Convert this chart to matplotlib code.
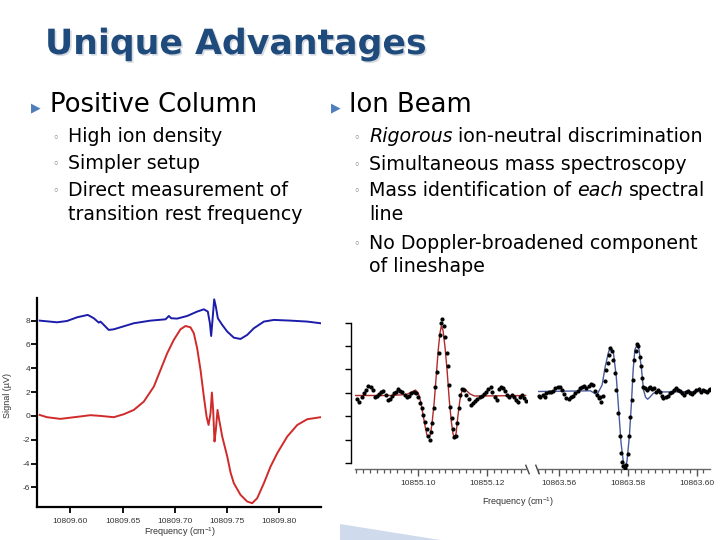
import matplotlib
matplotlib.use("Agg")
import matplotlib.pyplot as plt
import matplotlib.patheffects as pe
from matplotlib.patches import Polygon
from matplotlib.ticker import MultipleLocator, FormatStrFormatter, NullFormatter

# ---------------- text content ----------------
title_text = "Unique Advantages"
left_heading = "Positive Column"
right_heading = "Ion Beam"
left_bullets = [
    [[("High ion density", "normal")]],
    [[("Simpler setup", "normal")]],
    [[("Direct measurement of", "normal")], [("transition rest frequency", "normal")]],
]
right_bullets = [
    [[("Rigorous", "italic"), ("ion-neutral discrimination", "normal")]],
    [[("Simultaneous mass spectroscopy", "normal")]],
    [[("Mass identification of", "normal"), ("each", "italic"), ("spectral", "normal")],
     [("line", "normal")]],
    [[("No Doppler-broadened component", "normal")], [("of lineshape", "normal")]],
]

# ---------------- positive column spectrum ----------------
pc_ticks_x = [10809.60, 10809.65, 10809.70, 10809.75, 10809.80]
pc_ticks_y = [-6, -4, -2, 0, 2, 4, 6, 8]
pc_red_freq = [10809.5706, 10809.5776, 10809.5904, 10809.6064, 10809.6192, 10809.6288,
               10809.6415, 10809.6511, 10809.6607, 10809.6703, 10809.6799, 10809.6863,
               10809.6927, 10809.6990, 10809.7054, 10809.7102, 10809.7150, 10809.7182,
               10809.7214, 10809.7246, 10809.7278, 10809.7304, 10809.7323, 10809.7342,
               10809.7355, 10809.7367, 10809.7380, 10809.7393, 10809.7409, 10809.7425,
               10809.7454, 10809.7502, 10809.7534, 10809.7565, 10809.7629, 10809.7693,
               10809.7741, 10809.7789, 10809.7853, 10809.7917, 10809.7981, 10809.8077,
               10809.8173, 10809.8268, 10809.8396]
pc_red_sig = [0.08, -0.11, -0.25, -0.08, 0.06, 0.0, -0.11, 0.14, 0.5, 1.2,
              2.46, 3.86, 5.26, 6.38, 7.27, 7.55, 7.44, 6.94, 5.68, 3.86,
              1.62, -0.06, -0.76, 0.22, 1.96, 0.5, -2.15, -1.17, 0.5, -0.34,
              -1.73, -3.41, -4.76, -5.65, -6.63, -7.19, -7.33, -6.91, -5.65, -4.25,
              -3.13, -1.73, -0.76, -0.28, -0.11]
pc_blue_freq = [10809.5706, 10809.5872, 10809.5968, 10809.6064, 10809.6166, 10809.6224,
                10809.6272, 10809.6288, 10809.6320, 10809.6367, 10809.6415, 10809.6479,
                10809.6607, 10809.6767, 10809.6911, 10809.6943, 10809.6965, 10809.7022,
                10809.7118, 10809.7214, 10809.7278, 10809.7316, 10809.7336, 10809.7348,
                10809.7361, 10809.7377, 10809.7393, 10809.7412, 10809.7454, 10809.7502,
                10809.7565, 10809.7629, 10809.7693, 10809.7757, 10809.7853, 10809.7949,
                10809.8109, 10809.8268, 10809.8396]
pc_blue_sig = [8.0, 7.86, 7.97, 8.28, 8.48, 8.2, 7.83, 7.92, 7.64, 7.22,
               7.27, 7.44, 7.78, 8.0, 8.11, 8.39, 8.2, 8.17, 8.39, 8.76,
               8.95, 8.76, 7.78, 6.71, 8.06, 9.79, 9.17, 8.2, 7.64, 7.08,
               6.57, 6.46, 6.8, 7.36, 7.92, 8.06, 8.0, 7.92, 7.78]

# ---------------- ion beam spectrum ----------------
ib_ticks_a = [10855.10, 10855.12]
ib_ticks_b = [10863.56, 10863.58, 10863.60]
ib_ticks_y = [0, 1, 2, 3, 4, 5, 6]
ib_dot_freq_a = [10855.0822, 10855.0830, 10855.0837, 10855.0843, 10855.0849, 10855.0856,
                 10855.0863, 10855.0868, 10855.0875, 10855.0882, 10855.0888, 10855.0893,
                 10855.0899, 10855.0906, 10855.0912, 10855.0918, 10855.0924, 10855.0930,
                 10855.0936, 10855.0942, 10855.0949, 10855.0955, 10855.0962, 10855.0968,
                 10855.0974, 10855.0981, 10855.0988, 10855.0993, 10855.1000, 10855.1006,
                 10855.1011, 10855.1015, 10855.1020, 10855.1025, 10855.1030, 10855.1034,
                 10855.1038, 10855.1041, 10855.1046, 10855.1051, 10855.1056, 10855.1060,
                 10855.1064, 10855.1067, 10855.1071, 10855.1075, 10855.1079, 10855.1083,
                 10855.1087, 10855.1090, 10855.1094, 10855.1098, 10855.1102, 10855.1106,
                 10855.1110, 10855.1114, 10855.1118, 10855.1123, 10855.1128, 10855.1133,
                 10855.1139, 10855.1147, 10855.1154, 10855.1161, 10855.1166, 10855.1173,
                 10855.1180, 10855.1186, 10855.1192, 10855.1198, 10855.1205, 10855.1212,
                 10855.1216, 10855.1223, 10855.1229, 10855.1236, 10855.1241, 10855.1247,
                 10855.1253, 10855.1260, 10855.1266, 10855.1272, 10855.1279, 10855.1286,
                 10855.1291, 10855.1297, 10855.1303, 10855.1309, 10855.1314]
ib_dot_val_a = [2.73, 2.63, 2.82, 2.99, 3.13, 3.30, 3.27, 3.13, 2.82, 2.87,
                2.96, 3.06, 3.09, 2.92, 2.70, 2.73, 2.87, 2.99, 3.06, 3.16,
                3.09, 3.03, 2.92, 2.82, 2.87, 2.99, 3.06, 2.99, 2.82, 2.56,
                2.35, 2.06, 1.78, 1.45, 1.17, 0.97, 1.35, 1.71, 2.35, 3.27,
                3.91, 4.72, 5.48, 5.97, 6.15, 5.86, 5.38, 4.69, 4.13, 3.34,
                2.42, 1.92, 1.45, 1.10, 1.14, 1.71, 2.35, 2.92, 3.16, 3.13,
                2.92, 2.73, 2.49, 2.56, 2.67, 2.73, 2.82, 2.87, 2.96, 3.02,
                3.16, 3.24, 3.06, 2.82, 2.70, 3.16, 3.24, 3.19, 3.09, 2.92,
                2.84, 2.92, 2.84, 2.70, 2.63, 2.82, 2.92, 2.77, 2.67]
ib_fit_freq_a = [10855.0817, 10855.0918, 10855.0966, 10855.0981, 10855.0993, 10855.1001,
                 10855.1008, 10855.1014, 10855.1021, 10855.1026, 10855.1031, 10855.1036,
                 10855.1041, 10855.1047, 10855.1053, 10855.1059, 10855.1064, 10855.1068,
                 10855.1073, 10855.1079, 10855.1085, 10855.1091, 10855.1097, 10855.1102,
                 10855.1106, 10855.1111, 10855.1116, 10855.1122, 10855.1128, 10855.1134,
                 10855.1141, 10855.1151, 10855.1164, 10855.1188, 10855.1313]
ib_fit_val_a = [2.89, 2.89, 2.93, 3.03, 3.12, 2.99, 2.63, 2.13, 1.56, 1.21,
                1.10, 1.21, 1.71, 2.56, 3.70, 4.84, 5.55, 5.86, 5.66, 4.91,
                3.91, 2.70, 1.78, 1.25, 1.10, 1.28, 1.99, 2.70, 3.09, 3.20,
                3.10, 2.96, 2.87, 2.87, 2.89]
ib_dot_freq_b = [10863.5542, 10863.5547, 10863.5553, 10863.5559, 10863.5564, 10863.5571,
                 10863.5578, 10863.5584, 10863.5590, 10863.5597, 10863.5603, 10863.5610,
                 10863.5616, 10863.5622, 10863.5629, 10863.5636, 10863.5642, 10863.5648,
                 10863.5655, 10863.5661, 10863.5668, 10863.5674, 10863.5680, 10863.5687,
                 10863.5694, 10863.5700, 10863.5706, 10863.5711, 10863.5716, 10863.5721,
                 10863.5724, 10863.5729, 10863.5733, 10863.5738, 10863.5742, 10863.5746,
                 10863.5750, 10863.5754, 10863.5758, 10863.5762, 10863.5767, 10863.5772,
                 10863.5777, 10863.5781, 10863.5785, 10863.5788, 10863.5791, 10863.5795,
                 10863.5800, 10863.5804, 10863.5808, 10863.5812, 10863.5815, 10863.5819,
                 10863.5823, 10863.5827, 10863.5831, 10863.5835, 10863.5839, 10863.5843,
                 10863.5846, 10863.5851, 10863.5856, 10863.5861, 10863.5866, 10863.5872,
                 10863.5877, 10863.5883, 10863.5889, 10863.5895, 10863.5900, 10863.5904,
                 10863.5910, 10863.5916, 10863.5922, 10863.5929, 10863.5935, 10863.5941,
                 10863.5947, 10863.5953, 10863.5959, 10863.5964, 10863.5970, 10863.5976,
                 10863.5982, 10863.5987, 10863.5993, 10863.5999, 10863.6006, 10863.6013,
                 10863.6018, 10863.6024, 10863.6030, 10863.6036, 10863.6040]
ib_dot_val_b = [2.87, 2.82, 2.92, 2.84, 2.99, 3.06, 3.02, 3.10, 3.20, 3.27,
                3.24, 3.13, 2.96, 2.77, 2.73, 2.82, 2.87, 2.99, 3.09, 3.20,
                3.27, 3.30, 3.20, 3.30, 3.39, 3.34, 3.10, 2.92, 2.77, 2.82,
                2.63, 2.87, 3.49, 3.98, 4.27, 4.62, 4.91, 4.77, 4.41, 3.84,
                3.13, 2.13, 1.14, 0.43, 0.07, -0.14, -0.21, -0.07, 0.40, 1.14,
                1.99, 2.70, 3.56, 4.41, 4.77, 5.09, 5.01, 4.55, 4.13, 3.63,
                3.27, 3.20, 3.13, 3.20, 3.24, 3.16, 3.20, 3.06, 3.13, 3.02,
                2.87, 2.77, 2.82, 2.87, 2.99, 3.02, 3.13, 3.20, 3.13, 3.09,
                2.99, 2.92, 3.06, 3.10, 2.99, 2.96, 3.06, 3.13, 3.16, 3.06,
                3.13, 3.10, 3.02, 3.13, 3.17]
ib_fit_freq_b = [10863.5542, 10863.5692, 10863.5711, 10863.5726, 10863.5735, 10863.5745,
                 10863.5752, 10863.5759, 10863.5767, 10863.5774, 10863.5781, 10863.5788,
                 10863.5793, 10863.5798, 10863.5805, 10863.5811, 10863.5816, 10863.5821,
                 10863.5827, 10863.5833, 10863.5840, 10863.5846, 10863.5852, 10863.5858,
                 10863.5866, 10863.5875, 10863.5890, 10863.6040]
ib_fit_val_b = [3.06, 3.09, 2.92, 3.34, 4.13, 4.77, 4.95, 4.69, 3.70, 2.28,
                0.85, 0.0, -0.14, 0.07, 1.14, 2.56, 3.98, 4.84, 5.05, 4.86,
                4.05, 3.13, 2.82, 2.73, 2.84, 2.99, 3.04, 3.06]

# ---------------- figure ----------------
W, H = 720, 540
plt.rcParams["axes.unicode_minus"] = False
plt.rcParams["mathtext.default"] = "regular"
fig = plt.figure(figsize=(W / 100, H / 100), dpi=100)
fig.patch.set_facecolor("white")


def fx(px):
    return px / W


def fy(py):
    return 1 - py / H


def rect(x0, y0, x1, y1):
    return [fx(x0), fy(y1), (x1 - x0) / W, (y1 - y0) / H]


BODY = "DejaVu Sans"
CHART = "Liberation Sans"
renderer = fig.canvas.get_renderer()

# light-blue decorative wedge (slide background element)
fig.patches.append(Polygon([(fx(340), fy(524)), (fx(440), fy(540)), (fx(340), fy(540))],
                           closed=True, transform=fig.transFigure, facecolor="#cfdbed",
                           edgecolor="none", zorder=0))

# title
fig.text(fx(45), fy(54), title_text, fontsize=25, fontweight="bold", family="DejaVu Sans",
         color="#1f4a7c", va="baseline",
         path_effects=[pe.withSimplePatchShadow(offset=(1.2, -1.2), shadow_rgbFace="#b0b8c4", alpha=0.5)])


def draw_runs(x, ybase, runs, size):
    a = fig.text(0, 0, "n n", fontsize=size, family=BODY)
    b = fig.text(0, 0, "nn", fontsize=size, family=BODY)
    space = a.get_window_extent(renderer).width - b.get_window_extent(renderer).width
    a.remove()
    b.remove()
    for txt, style in runs:
        t = fig.text(fx(x), fy(ybase), txt, fontsize=size, family=BODY, style=style,
                     color="black", va="baseline")
        bb = t.get_window_extent(renderer)
        x = bb.x1 + space


def draw_column(arrow_x, head_x, head_text, sub_dot_x, sub_x, rows, bullets):
    fig.text(fx(arrow_x), fy(111), "\u25B6", fontsize=9, family="DejaVu Sans",
             color="#4f7fba", va="baseline", ha="center")
    fig.text(fx(head_x), fy(112), head_text, fontsize=18.6, family=BODY, color="black",
             va="baseline")
    r = 0
    for item in bullets:
        for li, line in enumerate(item):
            yb = rows[r] + 5.5
            if li == 0:
                fig.text(fx(sub_dot_x), fy(yb - 1.5), "\u25E6", fontsize=8, family="DejaVu Sans",
                         color="#707070", va="baseline", ha="center")
            draw_runs(sub_x, yb, line, 13.7)
            r += 1


draw_column(36, 50, left_heading, 56, 68, [137, 163, 190, 215], left_bullets)
draw_column(336, 349, right_heading, 357, 369, [137, 164, 190, 215, 243, 267], right_bullets)

# ---------------- left chart: positive column ----------------
ax1 = fig.add_axes(rect(37, 298, 321, 507))
ax1.plot(pc_blue_freq, pc_blue_sig, color="#1c1caa", lw=1.4)
ax1.plot(pc_red_freq, pc_red_sig, color="#d02a2a", lw=1.4)
ax1.set_xlim(10809.568, 10809.840)
ax1.set_ylim(-7.65, 9.9)
ax1.set_xticks(pc_ticks_x)
ax1.set_yticks(pc_ticks_y)
ax1.xaxis.set_major_formatter(FormatStrFormatter("%.2f"))
for s in ("top", "right"):
    ax1.spines[s].set_visible(False)
for s in ("left", "bottom"):
    ax1.spines[s].set_linewidth(1.6)
ax1.tick_params(axis="both", direction="out", length=4, width=1.3, labelsize=6,
                labelcolor="#333333")
ax1.tick_params(axis="y", pad=1)
ax1.tick_params(axis="x", pad=4)
for lab in ax1.get_xticklabels() + ax1.get_yticklabels():
    lab.set_family(CHART)
fig.text(fx(8), fy(395), "Signal (\u00b5V)", rotation=90, fontsize=6.5, family=CHART,
         color="#333333", ha="center", va="center")
fig.text(fx(180), fy(532), "Frequency (cm$^{-1}$)", fontsize=6.5, family=CHART,
         color="#333333", ha="center", va="center")

# ---------------- right chart: ion beam (broken axis) ----------------
ylo, yhi = -0.26, 6.3
axa = fig.add_axes(rect(355, 315.6, 527, 469.3))
axb = fig.add_axes(rect(537, 315.6, 710, 469.3))
axa.plot(ib_fit_freq_a, ib_fit_val_a, color="#b02a2a", lw=1.0, zorder=2)
axa.plot(ib_dot_freq_a, ib_dot_val_a, "o", color="black", ms=2.0, zorder=3)
axb.plot(ib_fit_freq_b, ib_fit_val_b, color="#4a5c9c", lw=1.0, zorder=2)
axb.plot(ib_dot_freq_b, ib_dot_val_b, "o", color="black", ms=2.0, zorder=3)
axa.set_xlim(10855.0817, 10855.1317)
axb.set_xlim(10863.5537, 10863.6039)
for ax, tks in ((axa, ib_ticks_a), (axb, ib_ticks_b)):
    ax.set_ylim(ylo, yhi)
    ax.patch.set_alpha(0)
    ax.set_xticks(tks)
    ax.xaxis.set_minor_locator(MultipleLocator(0.002))
    ax.xaxis.set_major_formatter(FormatStrFormatter("%.2f"))
    for s in ("top", "right"):
        ax.spines[s].set_visible(False)
    ax.spines["bottom"].set_color("#666666")
    ax.spines["bottom"].set_linewidth(1.0)
    ax.tick_params(axis="x", which="major", direction="out", length=5, width=1.0,
                   color="#555555", labelsize=6, labelcolor="#333333", pad=3)
    ax.tick_params(axis="x", which="minor", direction="out", length=3, width=0.9,
                   color="#555555")
    for lab in ax.get_xticklabels():
        lab.set_family(CHART)
axa.spines["left"].set_position(("outward", 3))
axa.spines["left"].set_bounds(0, 6)
axa.spines["left"].set_linewidth(1.0)
axa.set_yticks(ib_ticks_y)
axa.yaxis.set_major_formatter(NullFormatter())
axa.tick_params(axis="y", direction="out", length=4, width=1.0)
axb.spines["left"].set_visible(False)
axb.set_yticks([])

brk = dict(marker=[(-0.6, 1.5), (0.6, -1.5)], markersize=7, linestyle="none",
           color="#444444", mec="#444444", mew=1.0, clip_on=False)
axa.plot([1.0], [0.0], transform=axa.transAxes, **brk)
axb.plot([0.0], [0.0], transform=axb.transAxes, **brk)

fig.text(fx(518), fy(502), "Frequency (cm$^{-1}$)", fontsize=6.5, family=CHART,
         color="#333333", ha="center", va="center")

fig.savefig("out.png", dpi=100, facecolor="white")
